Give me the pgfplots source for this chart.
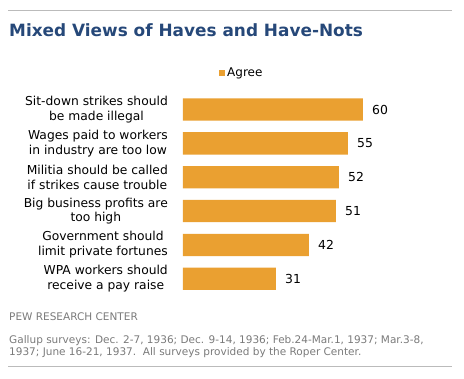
\documentclass[border=0pt]{standalone}
\usepackage{pgfplots}
\pgfplotsset{compat=1.18}
\usepackage{fontspec}
\setmainfont{DejaVu Sans}
\definecolor{barc}{HTML}{EAA031}
\definecolor{titleblue}{HTML}{264879}
\definecolor{footgray}{HTML}{7A7A7A}
\definecolor{rulegray}{HTML}{BBBBBB}
\begin{document}
\begin{tikzpicture}
\path[use as bounding box] (0pt,0pt) rectangle (464pt,-379pt);
\draw[rulegray, line width=0.8pt] (8pt,-10.3pt) -- (452pt,-10.3pt);
\draw[rulegray, line width=0.8pt] (8pt,-366.5pt) -- (452pt,-366.5pt);
\node[anchor=base west, inner sep=0pt, text=titleblue, font={\fontsize{16.9}{20}\selectfont\bfseries}] at (9pt,-36.7pt) {Mixed Views of Haves and Have-Nots};
\node[anchor=base west, inner sep=0pt, text=footgray, font={\fontsize{10.5}{12.4}\selectfont}] at (9pt,-321pt) {PEW RESEARCH CENTER};
\node[anchor=base west, inner sep=0pt, text=footgray, font={\fontsize{10.5}{12.4}\selectfont}] at (9pt,-343.3pt) {Gallup surveys: Dec. 2-7, 1936; Dec. 9-14, 1936; Feb.24-Mar.1, 1937; Mar.3-8,};
\node[anchor=base west, inner sep=0pt, text=footgray, font={\fontsize{10.5}{12.4}\selectfont}] at (9pt,-355.7pt) {1937; June 16-21, 1937.\ \ All surveys provided by the Roper Center.};
\begin{axis}[
  at={(183pt,-295.75pt)}, anchor=south west,
  scale only axis, width=180pt, height=203.2pt,
  xmin=0, xmax=60, ymin=-0.5, ymax=5.5, y dir=reverse,
  xbar, bar width=22.3pt,
  axis line style={draw=none}, major tick length=0pt,
  xtick=\empty, ytick={0,1,2,3,4,5},
  yticklabels={{Sit-down strikes should\\be made illegal},{Wages paid to workers\\in industry are too low},{Militia should be called\\if strikes cause trouble},{Big business profits are\\too high},{Government should\\limit private fortunes},{WPA workers should\\receive a pay raise}},
  yticklabel style={align=center, font={\fontsize{12.3}{14.7}\selectfont}, inner sep=0pt, anchor=east, xshift=-15pt},
  /pgf/number format/assume math mode=true,
  nodes near coords,
  nodes near coords style={font={\fontsize{12.4}{14}\selectfont}, anchor=west, inner sep=0pt, xshift=9pt},
  clip=false,
  legend style={at={(0.2,1.096)}, anchor=west, draw=none, fill=none, inner sep=0pt, font={\fontsize{12}{14}\selectfont}},
  legend image code/.code={\fill[barc] (0pt,-3pt) rectangle (6pt,3pt);},
]
\addplot[fill=barc, draw=none] coordinates {(60,0) (55,1) (52,2) (51,3) (42,4) (31,5)};
\legend{Agree}
\end{axis}
\end{tikzpicture}
\end{document}
